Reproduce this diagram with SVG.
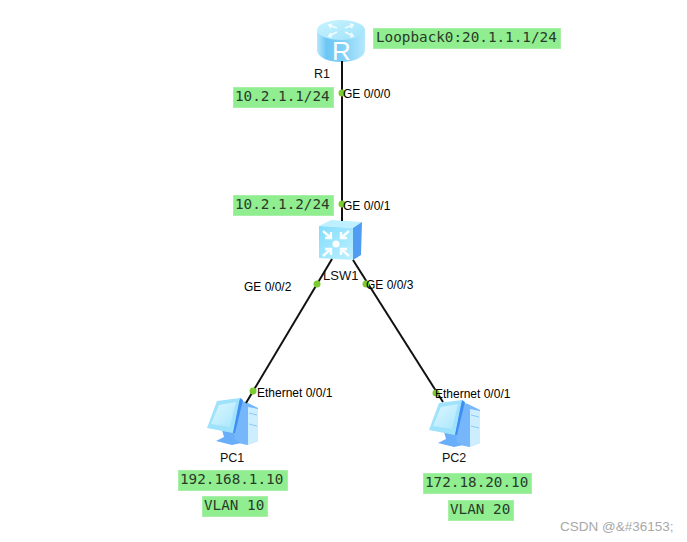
<svg xmlns="http://www.w3.org/2000/svg" width="687" height="542" viewBox="0 0 687 542">
<style>
.box{fill:#90ee90;stroke:#a8f0a8;stroke-width:1}
.ip{font-family:"DejaVu Sans Mono","Liberation Mono",monospace;font-size:14.3px;fill:#2a3a2a}
.lb{font-family:"Liberation Sans",Arial,sans-serif;font-size:12px;fill:#000}
.nm{font-family:"Liberation Sans",Arial,sans-serif;font-size:12.5px;fill:#111}
.cn{stroke:#111;stroke-width:2;fill:none}
.dot{fill:#7ccb32}
.ar{stroke:#fff;stroke-width:2.4;fill:none;opacity:.95}
</style>
<defs>
<linearGradient id="rb" x1="0" y1="0" x2="1" y2="0"><stop offset="0" stop-color="#b5e8fc"/><stop offset=".2" stop-color="#6cc6f4"/><stop offset=".6" stop-color="#86d3f8"/><stop offset="1" stop-color="#b5e8fc"/></linearGradient>
<linearGradient id="rt" x1="0" y1="0" x2="1" y2="1"><stop offset="0" stop-color="#c9f4ff"/><stop offset="1" stop-color="#9fe2fa"/></linearGradient>
<linearGradient id="sf" x1="0" y1="0" x2="1" y2="1"><stop offset="0" stop-color="#82dcfc"/><stop offset="1" stop-color="#bdf1ff"/></linearGradient>
<linearGradient id="mon" x1="0" y1="0" x2="1" y2="1"><stop offset="0" stop-color="#dff7ff"/><stop offset="1" stop-color="#a8e6ff"/></linearGradient>
<g id="pc">
<path d="M238,400 L246,402 L258,408 L258,441 L247,445 L230,441 Z" fill="#76b6fa"/>
<path d="M248,407 L258,409 L258,441 L248,445 Z" fill="#cdeeff"/>
<path d="M249,413 L257,415 M249,424 L257,426" stroke="#8cc8f5" stroke-width="1"/>
<path d="M222,430 L234,433 L235,440 L241,443 L232,445 L216,441 L224,437 Z" fill="#69aef8"/>
<path d="M217,401 L240,398 L233,433 L207,428 Z" fill="#9ee2fc"/>
<path d="M240,398 L243,400 L235,433 L233,433 Z" fill="#3f8ff2"/>
<path d="M219,405 L236,402 L230,427 L211,424 Z" fill="url(#mon)"/>
</g>
</defs>

<g id="R1">
<path d="M317,31 V50 C317,57 328,62 341,62 C354,62 365,57 365,50 V31 Z" fill="url(#rb)"/>
<ellipse cx="341" cy="30" rx="24" ry="10" fill="url(#rt)"/>
<path class="ar" style="stroke-width:1.8;opacity:.8" d="M329,25 L337,28 M332,24 L329,25 L331,28 M329,36 L337,32 M331,33 L329,36 L332,37 M353,25 L345,28 M350,24 L353,25 L351,28 M353,36 L345,32 M351,33 L353,36 L350,37"/>
<text x="332" y="60" font-family="'Liberation Sans',Arial,sans-serif" font-size="26" fill="#fff">R</text>
<text class="nm" x="314" y="78">R1</text>
</g>

<g id="LSW1">
<path d="M319,226 L331,220 L362,222 L353,228 Z" fill="#bff0ff"/>
<path d="M353,228 L362,222 L361,255 L353,260 Z" fill="#4f9cf2"/>
<path d="M319,226 L353,228 L353,260 L319,258 Z" fill="url(#sf)"/>
<circle cx="336" cy="244" r="3.5" fill="#fff"/>
<path class="ar" d="M323,231 L331,238 M331,232 V238 H325 M349,231 L341,238 M341,232 V238 H347 M323,256 L331,249 M331,255 V249 H325 M349,256 L341,249 M341,255 V249 H347"/>
<text class="nm" style="font-size:13px" x="323" y="280">LSW1</text>
</g>

<g id="PC1">
<use href="#pc"/>
<text class="nm" x="220" y="462">PC1</text>
</g>

<g id="PC2">
<use href="#pc" x="222" y="2"/>
<text class="nm" x="442" y="462">PC2</text>
</g>

<g id="connectors">
<path class="cn" d="M342,61 V221"/>
<path class="cn" d="M332,259 L246,403"/>
<path class="cn" d="M353,260 L443,402"/>
<circle class="dot" cx="342" cy="93" r="3.5"/>
<circle class="dot" cx="342" cy="204" r="3.5"/>
<circle class="dot" cx="317" cy="284" r="3.5"/>
<circle class="dot" cx="366" cy="284" r="3.5"/>
<circle class="dot" cx="253" cy="391" r="3.5"/>
<circle class="dot" cx="436" cy="393" r="3.5"/>
</g>

<g id="labels">
<text class="lb" x="343" y="98">GE 0/0/0</text>
<text class="lb" x="343" y="210">GE 0/0/1</text>
<text class="lb" x="244" y="291">GE 0/0/2</text>
<text class="lb" x="366" y="289">GE 0/0/3</text>
<text class="lb" x="257" y="397">Ethernet 0/0/1</text>
<text class="lb" x="435" y="398">Ethernet 0/0/1</text>
</g>

<g id="notes">
<rect class="box" x="373.500" y="28.500" width="187" height="20"/>
<text class="ip" x="376" y="42">Loopback0:20.1.1.1/24</text>
<rect class="box" x="233.500" y="87.500" width="100" height="20"/>
<text class="ip" x="235" y="101">10.2.1.1/24</text>
<rect class="box" x="233.500" y="195.500" width="100" height="20"/>
<text class="ip" x="235" y="209">10.2.1.2/24</text>
<rect class="box" x="178.500" y="470.500" width="109" height="20"/>
<text class="ip" x="180" y="484">192.168.1.10</text>
<rect class="box" x="202.500" y="496.500" width="65" height="20"/>
<text class="ip" x="204" y="510">VLAN 10</text>
<rect class="box" x="423.500" y="473.500" width="108" height="20"/>
<text class="ip" x="425" y="487">172.18.20.10</text>
<rect class="box" x="448.500" y="500.500" width="65" height="20"/>
<text class="ip" x="450" y="514">VLAN 20</text>
</g>
<text x="560" y="531" font-family="'Liberation Sans',Arial,sans-serif" font-size="13.500" fill="#a8a8a8">CSDN @&amp;#36153;</text>
</svg>
